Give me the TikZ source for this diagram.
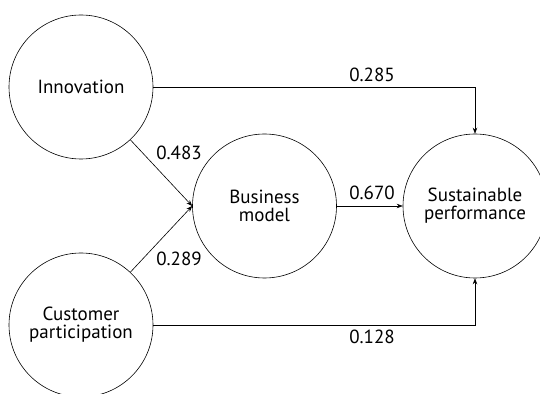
\documentclass[tikz,border=0pt]{standalone}
\usepackage{fontspec}
\setmainfont{PT Sans}
\usetikzlibrary{arrows.meta}
\begin{document}
\begin{tikzpicture}[x=1pt,y=1pt,
    construct/.style={draw,circle,minimum size=144pt,inner sep=0pt,align=center,font=\fontsize{19}{18}\selectfont},
    coef/.style={font=\fontsize{19}{18}\selectfont},
    >={Stealth[length=6pt,width=4.5pt]}, line width=0.6pt]
    \useasboundingbox (0,0) rectangle (540,393);

    \node[construct] (innovation) at (81,306) {Innovation};
    \node[construct] (customer) at (81,68) {Customer\\participation};
    \node[construct] (business) at (264.5,187) {Business\\model};
    \node[construct] (sustainable) at (475,187) {Sustainable\\performance};

    \draw[->] (innovation.east) -| (sustainable.north);
    \draw[->] (customer.east) -| (sustainable.south);
    \draw[->] (innovation) -- (business.west);
    \draw[->] (customer) -- (business.west);
    \draw[->] (business.east) -- (sustainable.west);

    \node[coef] (c1) at (372,318) {0.285};
    \node[coef] (c2) at (179,240) {0.483};
    \node[coef] (c3) at (372,200) {0.670};
    \node[coef] (c4) at (179,134) {0.289};
    \node[coef] (c5) at (372,56) {0.128};
\end{tikzpicture}
\end{document}
